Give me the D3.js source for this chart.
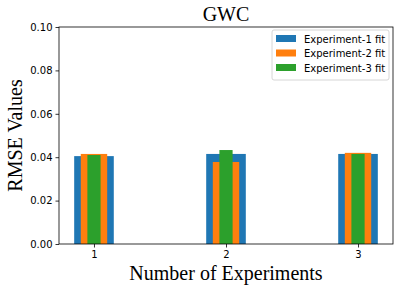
<head>
    <meta charset="utf-8">
    <style> body { margin: 0; background: #fff; } </style>
    <script src="https://d3js.org/d3.v7.min.js"></script>
</head>
<body>
<div id="chart"></div>
<script>
    // values
    var experiments = [1, 2, 3];
    var seriesNames = ["Experiment-1 fit", "Experiment-2 fit", "Experiment-3 fit"];
    var exp1 = [0.0405, 0.0415, 0.0415];
    var exp2 = [0.0415, 0.0378, 0.0420];
    var exp3 = [0.0410, 0.0433, 0.0415];
    var barWidths = [0.3, 0.2, 0.1];
    var colors = ["#1f77b4", "#ff7f0e", "#2ca02c"];
    var yTicks = [0, 0.02, 0.04, 0.06, 0.08, 0.10];

    var W = 400, H = 290;
    var margin = {top: 27, right: 7, bottom: 46, left: 59};
    var width = W - margin.left - margin.right,
        height = H - margin.top - margin.bottom;

    var svg = d3.select("#chart").append("svg")
        .attr("width", W)
        .attr("height", H);

    var g = svg.append("g")
        .attr("transform", "translate(" + margin.left + "," + margin.top + ")");

    var x = d3.scaleLinear().domain([0.735, 3.265]).range([0, width]);
    var y = d3.scaleLinear().domain([0, 0.1]).range([height, 0]);

    var series = [exp1, exp2, exp3];
    series.forEach(function(vals, i) {
        g.append("g").selectAll("rect")
            .data(vals)
            .join("rect")
            .attr("x", (d, j) => x(experiments[j] - barWidths[i] / 2))
            .attr("width", (d, j) => x(experiments[j] + barWidths[i] / 2) - x(experiments[j] - barWidths[i] / 2))
            .attr("y", d => y(d))
            .attr("height", d => y(0) - y(d))
            .attr("fill", colors[i]);
    });

    var xa = g.append("g")
        .attr("transform", "translate(0," + height + ")")
        .call(d3.axisBottom(x).tickValues(experiments).tickSize(3.5).tickPadding(3).tickFormat(d3.format("d")));

    var ya = g.append("g")
        .call(d3.axisLeft(y).tickValues(yTicks).tickSize(3.5).tickPadding(3).tickFormat(d3.format(".2f")));

    g.selectAll(".domain").remove();
    [xa, ya].forEach(function(a) {
        a.selectAll("text").attr("font-family", "DejaVu Sans").attr("font-size", 10).attr("fill", "#000");
        a.selectAll("line").attr("stroke", "#000").attr("stroke-width", 0.8);
    });

    // frame
    g.append("rect")
        .attr("width", width).attr("height", height)
        .attr("fill", "none").attr("stroke", "#000").attr("stroke-width", 0.8);

    svg.append("text")
        .attr("x", margin.left + width / 2).attr("y", 21)
        .attr("text-anchor", "middle")
        .attr("font-family", "Liberation Serif, serif")
        .attr("font-size", 20)
        .text("GWC");

    svg.append("text")
        .attr("transform", "translate(22," + (margin.top + height / 2) + ") rotate(-90)")
        .attr("text-anchor", "middle")
        .attr("font-family", "Liberation Serif, serif")
        .attr("font-size", 20)
        .text("RMSE Values");

    svg.append("text")
        .attr("x", margin.left + width / 2).attr("y", 280)
        .attr("text-anchor", "middle")
        .attr("font-family", "Liberation Serif, serif")
        .attr("font-size", 20)
        .text("Number of Experiments");

    // legend
    var lg = svg.append("g").attr("transform", "translate(272,30)");
    lg.append("rect")
        .attr("width", 117).attr("height", 50).attr("rx", 2)
        .attr("fill", "#fff").attr("fill-opacity", 0.8)
        .attr("stroke", "#ccc").attr("stroke-width", 0.8);
    var items = lg.selectAll(".item")
        .data(seriesNames)
        .join("g")
        .attr("transform", (d, i) => "translate(4," + (5 + i * 14.5) + ")");
    items.append("rect")
        .attr("width", 20).attr("height", 7)
        .attr("fill", (d, i) => colors[i]);
    items.append("text")
        .attr("x", 28).attr("y", 7.5)
        .attr("font-family", "DejaVu Sans").attr("font-size", 10)
        .text(d => d);
</script>
</body>
